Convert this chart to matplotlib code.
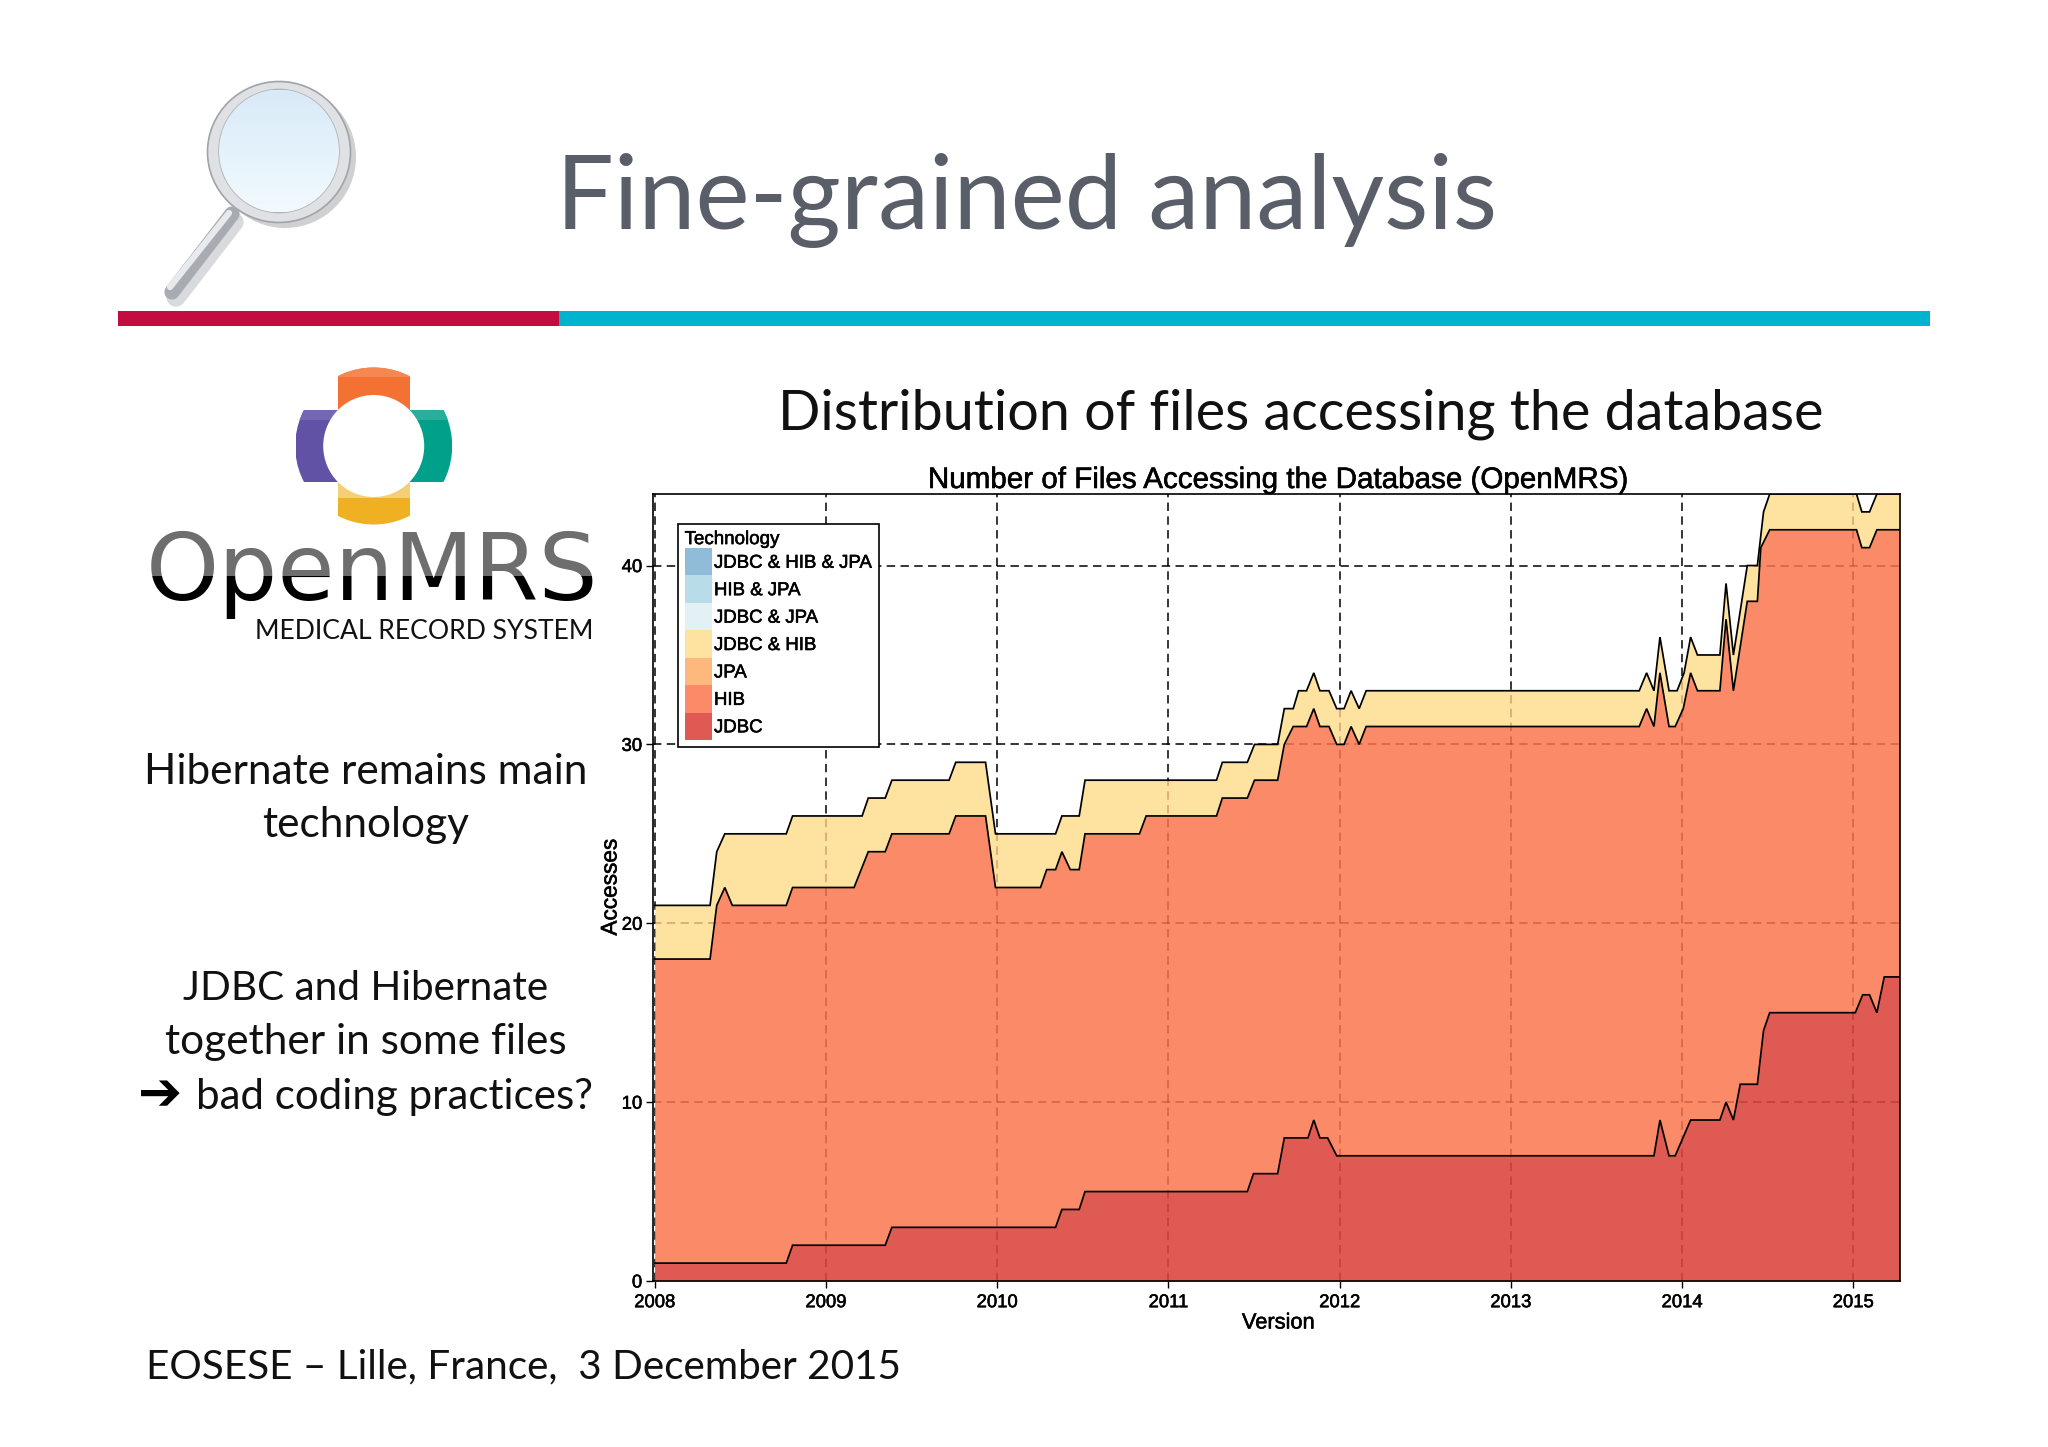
import numpy as np
import matplotlib

matplotlib.use("Agg")
import matplotlib.pyplot as plt
import matplotlib.patheffects as pe
from matplotlib.colors import LinearSegmentedColormap
from matplotlib.patches import Circle, Ellipse, Patch, Rectangle

W, H = 2048, 1447

INK = "#000000"
SLIDE_INK = "#111111"
TITLE_GREY = "#595E68"
C_JDBC = "#DE5A52"
C_HIB = "#FB8A68"
C_BOTH = "#FEE3A0"

YEARS = [2008, 2009, 2010, 2011, 2012, 2013, 2014, 2015]
Y_TICKS = [0, 10, 20, 30, 40]

LEGEND_LABELS = ["JDBC & HIB & JPA", "HIB & JPA", "JDBC & JPA", "JDBC & HIB",
                 "JPA", "HIB", "JDBC"]
LEGEND_COLORS = ["#91BCD9", "#B8DCE9", "#E3F1F5", C_BOTH, "#FDB97D", C_HIB, C_JDBC]

# stacked boundaries (version date, cumulative files)
jdbc_x = [2008.000, 2008.768, 2008.805, 2009.346, 2009.385, 2010.341, 2010.378,
          2010.479, 2010.513, 2011.461, 2011.497, 2011.638, 2011.677, 2011.815,
          2011.849, 2011.885, 2011.930, 2011.983, 2013.836, 2013.871, 2013.924,
          2013.960, 2014.050, 2014.221, 2014.257, 2014.300, 2014.340, 2014.440,
          2014.476, 2014.512, 2015.012, 2015.055, 2015.095, 2015.138, 2015.181,
          2015.269]
jdbc_y = [1, 1, 2, 2, 3, 3, 4, 4, 5, 5, 6, 6, 8, 8, 9, 8, 8, 7, 7, 9, 7, 7, 9, 9,
          10, 9, 11, 11, 14, 15, 15, 16, 16, 15, 17, 17]

hib_x = [2008.000, 2008.323, 2008.362, 2008.409, 2008.453, 2008.768, 2008.805,
         2009.164, 2009.247, 2009.346, 2009.385, 2009.719, 2009.758, 2009.932,
         2009.990, 2010.253, 2010.289, 2010.341, 2010.378, 2010.427, 2010.479,
         2010.513, 2010.831, 2010.870, 2011.281, 2011.315, 2011.461, 2011.503,
         2011.638, 2011.677, 2011.729, 2011.807, 2011.849, 2011.885, 2011.938,
         2011.983, 2012.026, 2012.067, 2012.114, 2012.155, 2013.750, 2013.793,
         2013.836, 2013.871, 2013.924, 2013.960, 2014.007, 2014.050, 2014.090,
         2014.221, 2014.257, 2014.300, 2014.381, 2014.440, 2014.460, 2014.512,
         2015.019, 2015.050, 2015.095, 2015.138, 2015.269]
hib_y = [18, 18, 21, 22, 21, 21, 22, 22, 24, 24, 25, 25, 26, 26, 22, 22, 23, 23, 24,
         23, 23, 25, 25, 26, 26, 27, 27, 28, 28, 30, 31, 31, 32, 31, 31, 30, 30, 31,
         30, 31, 31, 32, 31, 34, 31, 31, 32, 34, 33, 33, 37, 33, 38, 38, 41, 42, 42,
         41, 41, 42, 42]

both_x = [2008.000, 2008.323, 2008.362, 2008.409, 2008.768, 2008.805, 2009.211,
          2009.247, 2009.346, 2009.385, 2009.719, 2009.758, 2009.932, 2009.990,
          2010.341, 2010.378, 2010.479, 2010.513, 2011.281, 2011.315, 2011.461,
          2011.503, 2011.638, 2011.677, 2011.729, 2011.760, 2011.807, 2011.849,
          2011.885, 2011.938, 2011.983, 2012.026, 2012.067, 2012.114, 2012.155,
          2013.750, 2013.793, 2013.836, 2013.871, 2013.924, 2013.971, 2014.012,
          2014.050, 2014.090, 2014.221, 2014.257, 2014.300, 2014.381, 2014.440,
          2014.476, 2014.512, 2015.019, 2015.050, 2015.095, 2015.138, 2015.269]
both_y = [21, 21, 24, 25, 25, 26, 26, 27, 27, 28, 28, 29, 29, 25, 25, 26, 26, 28, 28,
          29, 29, 30, 30, 32, 32, 33, 33, 34, 33, 33, 32, 32, 33, 32, 33, 33, 34, 33,
          36, 33, 33, 34, 36, 35, 35, 39, 35, 40, 40, 43, 44, 44, 43, 43, 44, 44]

fig = plt.figure(figsize=(W / 100, H / 100), dpi=100, facecolor="white")

# whole-slide layer in pixel coordinates
bg = fig.add_axes([0, 0, 1, 1])
bg.set_xlim(0, W)
bg.set_ylim(H, 0)
bg.axis("off")

LATO = ["Lato", "DejaVu Sans"]
SIZE = 30.5
bg.text(556, 229, "Fine-grained analysis", fontsize=73.7, color=TITLE_GREY, family=LATO)
bg.add_patch(Rectangle((118, 311), 441, 15, fc="#C30C41", ec="none"))
bg.add_patch(Rectangle((559, 311), 1371, 15, fc="#00B4D0", ec="none"))

# magnifier
bg.plot([176, 234], [297, 222], color="#B5B7BC", lw=14, solid_capstyle="round",
        alpha=0.5)
bg.plot([172, 232], [292, 214], color="#A8ACB2", lw=11, solid_capstyle="round")
bg.plot([170, 229], [287, 213], color="#E8EAEE", lw=4.5, solid_capstyle="round")
bg.add_patch(Circle((285, 157), 71, fc="#A8AAAD", ec="none", alpha=0.55))
bg.add_patch(Ellipse((279, 152), 143, 141, fc="#DFE1E5", ec="#A0A3A8", lw=1.2))
lens = Ellipse((279, 151), 120, 123, fc="#E4F1FA", ec="#B0B3B8", lw=1.2)
bg.add_patch(lens)
lens_cmap = LinearSegmentedColormap.from_list("lens", ["#D8EAF7", "#F2FAFE"])
shade = bg.imshow(np.linspace(0, 1, 64).reshape(-1, 1), cmap=lens_cmap,
                  extent=(219, 339, 212, 90), aspect="auto", zorder=1.5)
shade.set_clip_path(lens)
bg.set_xlim(0, W)
bg.set_ylim(H, 0)

# OpenMRS logo
outline = Circle((373.7, 446), 78.5, transform=bg.transData)
arms = [((338, 367), 72, 79, "#F37233", (338, 367), 10, "#F58850"),
        ((338, 446), 72, 79, "#EFB021", (338, 482), 16, "#F5CF75"),
        ((296, 410), 78, 72, "#6152A6", (296, 410), 10, "#7468B3"),
        ((374, 410), 78, 72, "#00A08B", (374, 410), 10, "#2AAE9C")]
for xy, w, h, col, band_xy, band_h, light in arms:
    arm = Rectangle(xy, w, h, fc=col, ec="none")
    bg.add_patch(arm)
    arm.set_clip_path(outline)
    band = Rectangle(band_xy, w, band_h, fc=light, ec="none")
    bg.add_patch(band)
    band.set_clip_path(outline)
bg.add_patch(Ellipse((373.7, 446), 101, 102, fc="white", ec="none"))

logo_dark = bg.text(146, 600, "OpenMRS", fontsize=67, color="#000000",
                    family="DejaVu Sans")
logo_dark.set_clip_path(Rectangle((100, 576), 520, 60, transform=bg.transData))
logo_dark.set_clip_on(True)
logo_grey = bg.text(146, 600, "OpenMRS", fontsize=67, color="#6E6E6E",
                    family="DejaVu Sans")
logo_grey.set_clip_path(Rectangle((100, 520), 520, 56, transform=bg.transData))
logo_grey.set_clip_on(True)
bg.text(255, 639, "MEDICAL RECORD SYSTEM", fontsize=19.1, color=SLIDE_INK, family=LATO)

# slide text
bg.text(366, 784, "Hibernate remains main", fontsize=SIZE, color=SLIDE_INK, family=LATO,
        ha="center")
bg.text(366, 837, "technology", fontsize=SIZE, color=SLIDE_INK, family=LATO, ha="center")
bg.text(366, 1000, "JDBC and Hibernate", fontsize=29.2, color=SLIDE_INK, family=LATO,
        ha="center")
bg.text(366, 1054, "together in some files", fontsize=SIZE, color=SLIDE_INK, family=LATO,
        ha="center")
bg.text(138, 1110, "\u2794", fontsize=38, color="#000000", family="DejaVu Sans",
        weight="bold")
bg.text(196, 1109, "bad coding practices?", fontsize=30.3, color=SLIDE_INK, family=LATO)
bg.text(778, 430, "Distribution of files accessing the database", fontsize=40.15,
        color=SLIDE_INK, family=LATO)
bg.text(146, 1378, "EOSESE \u2013 Lille, France,  3 December 2015", fontsize=29.15,
        color=SLIDE_INK, family=LATO)

# chart
L, R, T, B = 653.4, 1900, 494, 1281
ax = fig.add_axes([L / W, 1 - B / H, (R - L) / W, (B - T) / H], facecolor="white")
ax.set_xlim(2007.992, 2015.273)
ax.set_ylim(0, 44)

top_fill = ax.fill_between(both_x, both_y, color=C_BOTH, lw=0, zorder=2)
ax.fill_between(hib_x, hib_y, color=C_HIB, lw=0, zorder=2)
ax.fill_between(jdbc_x, jdbc_y, color=C_JDBC, lw=0, zorder=2)
for xs, ys in ((both_x, both_y), (hib_x, hib_y), (jdbc_x, jdbc_y)):
    ax.plot(xs, ys, color=INK, lw=1.25, zorder=4, solid_joinstyle="miter")

# grid: black on white, showing through the translucent areas as a dark tint
dash = (0, (5.5, 3.5))
area = top_fill.get_paths()[0]
grid_lines = [ax.axvline(yr, lw=1.1, ls=dash, color=INK, zorder=1) for yr in YEARS]
grid_lines += [ax.axhline(v, lw=1.1, ls=dash, color=INK, zorder=1) for v in Y_TICKS[1:]]
for yr in YEARS:
    tint = ax.axvline(yr, lw=1.1, ls=dash, color="#7A0000", alpha=0.3, zorder=3)
    tint.set_clip_path(area, top_fill.get_transform())
for v in Y_TICKS[1:]:
    tint = ax.axhline(v, lw=1.1, ls=dash, color="#7A0000", alpha=0.3, zorder=3)
    tint.set_clip_path(area, top_fill.get_transform())

heavy = [pe.withStroke(linewidth=0.4, foreground=INK)]

ax.set_xticks(YEARS)
ax.set_yticks(Y_TICKS)
ax.tick_params(labelsize=13.3, length=5, width=1, pad=3, colors=INK)
ax.tick_params(axis="x", pad=4.5)
for lab in ax.get_xticklabels() + ax.get_yticklabels():
    lab.set_family("Liberation Sans")
    lab.set_path_effects(heavy)
for s in ax.spines.values():
    s.set_linewidth(1.2)
    s.set_color(INK)
    s.set_zorder(6)

ax.set_title("Number of Files Accessing the Database (OpenMRS)", fontsize=21.3,
             family="Liberation Sans", color=INK, x=0.5015, pad=2, path_effects=heavy)
bg.text(1278, 1323, "Version", fontsize=15.7, family="Liberation Sans", color=INK,
        ha="center", va="center", path_effects=heavy)
bg.text(610, 887, "Accesses", fontsize=16.3, family="Liberation Sans", color=INK,
        rotation=90, ha="center", va="center", path_effects=heavy)

handles = [Patch(fc=c, ec="none", label=lab)
           for c, lab in zip(LEGEND_COLORS, LEGEND_LABELS)]
leg = ax.legend(handles=handles, title="Technology", loc="upper left",
                bbox_to_anchor=((677.5 - L) / (R - L), 1 - (524 - T) / (B - T)),
                borderaxespad=0, title_fontsize=13.5, alignment="left",
                labelspacing=0, handlelength=1.5, handleheight=1.89,
                handletextpad=0.08, borderpad=0.38, fancybox=False, framealpha=1,
                edgecolor=INK, prop={"family": "Liberation Sans", "size": 13.4})
leg.get_frame().set_linewidth(1.2)
leg.get_title().set_family("Liberation Sans")
leg.get_title().set_path_effects(heavy)
for txt in leg.get_texts():
    txt.set_path_effects(heavy)
leg.set_zorder(10)

fig.savefig("out.png", dpi=100)
